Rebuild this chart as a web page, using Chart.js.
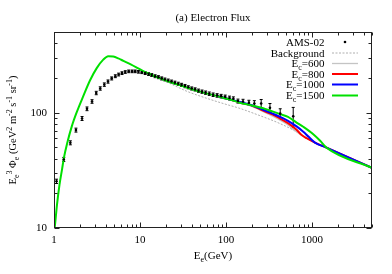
<!DOCTYPE html>
<html><head><meta charset="utf-8">
<script src="https://cdn.jsdelivr.net/npm/chart.js@4"></script>
<style>html,body{margin:0;padding:0;background:#fff}#wrap{width:392px;height:274px}</style>
</head><body><div id="wrap"><canvas id="c" width="392" height="274"></canvas></div>
<script>
// ---- AMS-02 data (E in GeV, E^3 flux) ----
const amsE=[1.07,1.30,1.55,1.80,2.12,2.42,2.77,3.10,3.45,3.85,4.25,4.69,5.17,5.65,6.18,6.75,7.40,8.10,8.80,9.60,10.5,11.5,12.6,13.7,15.0,16.4,17.9,19.5,21.3,23.3,25.5,27.9,30.5,33.4,36.5,40.0,43.8,48.0,52.7,58.0,64.0,71.0,79.0,88.0,98.0,110,122,138,158,185,214,257,325,428,606];
const amsV=[25.4,39.3,54.8,70.6,89,108,125,148,162,175,186,198,207,214,220,225,228,228,228,226,224,220,216,212,207,203,198,194,190,186,182,178,174,170,166,162,159,155,152,149,146,143,141,139,137,134,132,126,125,122,120,120,110,98,93];
const amsErr=[1.1,1.6,2.2,2.8,3.5,4,4.5,5,5.5,6,6,6,6,6,6,6,6,6,6,6,6,6,6,6,6,6,6,5.5,5.5,5.5,5.5,5.5,5.5,5.5,5,5,5,5,5,5,5,5,5,5,5,5,5,5,5.5,6,7,10,10,10,18];
// ---- model curves ----
const lowE=[1.0,1.02,1.083,1.159,1.239,1.307,1.428,1.61,1.84,2.19,2.62,3.14,3.74,4.28,4.89,5.6,6.41,7.8,9.15,10.9,13.1,20,30,50];
const lowV=[9.5,10.2,15.9,23.8,32.1,40.9,54.8,76,101,139,190,243,288,308,306,295,281,262,246,229,215,190,172,152];
const midE=[80,111];
const midV=[139,130];
const bgE=[13.1,20,36,60,100,139,250,400,600,720,868,1085,1477,5000];
const bgV=[214,186,152,133,118,110,94,82,71,65.5,60,55,49.7,33.2];
const c600E=[150,200,271,350,426,527,600,720,868,1085,1477,5000];
const c600V=[121,113,102,93,86,78,72,65.5,60,55,49.7,33.2];
const c800E=[150,200,271,350,426,527,663,760,868,1085,1477,5000];
const c800V=[122,115,104,96,89,81,71,64,60,55,49.7,33.2];
const c1000E=[150,200,271,350,426,527,663,800,910,1085,1477,5000];
const c1000V=[123,116,106,98,92,85,76,68,62,55,49.7,33.2];
const c1500E=[145,200,271,426,527,663,800,1037,1248,1477,5000];
const c1500V=[122,115.5,109,97,92,82,75,65,57,49.7,33.2];
// ---- ticks ----
const xMajor=[1,10,100,1000];
const xTickLabels=['1','10','100','1000'];
const xMinor=[2,3,4,5,6,7,8,9,20,30,40,50,60,70,80,90,200,300,400,500,600,700,800,900,2000,3000,4000,5000];
const yMajor=[10,100];
const yTickLabels=['10','100'];
const yMinor=[20,30,40,50,60,70,80,90,200,300,400,500];

const serif='"Liberation Serif","Times New Roman","DejaVu Serif",serif';
const pts=(E,V)=>E.map((e,i)=>({x:e,y:V[i]}));

function drawRich(ctx,parts,x,y,size,align){
  const sm=Math.round(size*0.72);
  let w=0;
  parts.forEach(p=>{ctx.font=(p.s?sm:size)+'px '+serif;w+=ctx.measureText(p.t).width;});
  let cx=align==='right'?x-w:align==='center'?x-w/2:x;
  parts.forEach(p=>{
    ctx.font=(p.s?sm:size)+'px '+serif;
    const dy=p.s==='sub'?size*0.3:p.s==='sup'?-size*0.42:0;
    ctx.fillText(p.t,cx,y+dy);
    cx+=ctx.measureText(p.t).width;
  });
}

const custom={
  id:'custom',
  beforeDatasetsDraw(chart){
    const {ctx,scales:{x,y},chartArea:a}=chart;
    ctx.save();
    ctx.beginPath();ctx.rect(a.left,a.top,a.right-a.left,a.bottom-a.top);ctx.clip();
    ctx.strokeStyle='#000';ctx.lineWidth=1;
    for(let i=0;i<amsE.length;i++){
      const px=x.getPixelForValue(amsE[i]);
      const y1=y.getPixelForValue(amsV[i]-amsErr[i]);
      const y2=y.getPixelForValue(amsV[i]+amsErr[i]);
      ctx.beginPath();
      ctx.moveTo(px,y1);ctx.lineTo(px,y2);
      ctx.moveTo(px-1.5,y1);ctx.lineTo(px+1.5,y1);
      ctx.moveTo(px-1.5,y2);ctx.lineTo(px+1.5,y2);
      ctx.stroke();
    }
    ctx.restore();
  },
  afterDraw(chart){
    const {ctx,scales:{x,y},chartArea:a}=chart;
    ctx.save();
    ctx.strokeStyle='#222';ctx.lineWidth=1;
    const L=Math.round(a.left)+0.5,R=Math.round(a.right)-0.5,T=Math.round(a.top)+0.5,B=Math.round(a.bottom)-0.5;
    ctx.strokeRect(L,T,R-L,B-T);
    ctx.beginPath();
    const xt=(vals,len)=>vals.forEach(v=>{const p=Math.round(x.getPixelForValue(v))+0.5;ctx.moveTo(p,B);ctx.lineTo(p,B-len);ctx.moveTo(p,T);ctx.lineTo(p,T+len);});
    const yt=(vals,len)=>vals.forEach(v=>{const p=Math.round(y.getPixelForValue(v))+0.5;ctx.moveTo(L,p);ctx.lineTo(L+len,p);ctx.moveTo(R,p);ctx.lineTo(R-len,p);});
    xt(xMajor,5);xt(xMinor,3);yt(yMajor,5);yt(yMinor,3);
    ctx.stroke();
    ctx.fillStyle='#000';ctx.textBaseline='alphabetic';ctx.textAlign='left';
    drawRich(ctx,[{t:'(a) Electron Flux'}],(a.left+a.right)/2,21,11,'center');
    drawRich(ctx,[{t:'E'},{t:'e',s:'sub'},{t:'(GeV)'}],(a.left+a.right)/2,259,11,'center');
    ctx.save();
    ctx.translate(16,(a.top+a.bottom)/2);
    ctx.rotate(-Math.PI/2);
    drawRich(ctx,[{t:'E'},{t:'e',s:'sub'},{t:'3',s:'sup'},{t:' Φ'},{t:'e',s:'sub'},{t:' (GeV'},{t:'2',s:'sup'},{t:' m'},{t:'-2',s:'sup'},{t:' s'},{t:'-1',s:'sup'},{t:' sr'},{t:'-1',s:'sup'},{t:')'}],0,0,10.5,'center');
    ctx.restore();
    const lx=324.5,l1=332,l2=358,rows=[42,52.5,63,73.5,84,95];
    const items=[
      {parts:[{t:'AMS-02'}],type:'pt'},
      {parts:[{t:'Background'}],color:'#9a9a9a',w:0.8,dash:[2,1.5]},
      {parts:[{t:'E'},{t:'c',s:'sub'},{t:'=600'}],color:'#c4c4c4',w:1.3},
      {parts:[{t:'E'},{t:'c',s:'sub'},{t:'=800'}],color:'#ff0000',w:2},
      {parts:[{t:'E'},{t:'c',s:'sub'},{t:'=1000'}],color:'#0000ff',w:2},
      {parts:[{t:'E'},{t:'c',s:'sub'},{t:'=1500'}],color:'#00e000',w:2}
    ];
    items.forEach((it,i)=>{
      const cy=rows[i];
      ctx.fillStyle='#000';
      drawRich(ctx,it.parts,lx,cy+4,11,'right');
      if(it.type==='pt'){
        ctx.beginPath();ctx.arc(345,cy,1.3,0,Math.PI*2);ctx.fill();
      }else{
        ctx.save();ctx.strokeStyle=it.color;ctx.lineWidth=it.w;ctx.setLineDash(it.dash||[]);
        ctx.beginPath();ctx.moveTo(l1,cy+0.5);ctx.lineTo(l2,cy+0.5);ctx.stroke();ctx.restore();
      }
    });
    ctx.restore();
  }
};

const lineDs=(label,data,color,w,order,dash)=>({label,data,showLine:true,borderColor:color,backgroundColor:color,borderWidth:w,pointRadius:0,cubicInterpolationMode:'monotone',order,borderDash:dash||[]});

new Chart(document.getElementById('c'),{
  type:'scatter',
  data:{datasets:[
    {label:'AMS-02',data:pts(amsE,amsV),pointRadius:1.3,pointBackgroundColor:'#000',pointBorderWidth:0,showLine:false,order:0},
    lineDs('Ec=1500',pts(lowE.concat(midE,c1500E),lowV.concat(midV,c1500V)),'#00e000',2,1),
    lineDs('Ec=1000',pts(midE.concat(c1000E),midV.concat(c1000V)),'#0000ff',2,2),
    lineDs('Ec=800',pts(midE.concat(c800E),midV.concat(c800V)),'#ff0000',2,3),
    lineDs('Ec=600',pts(midE.concat(c600E),midV.concat(c600V)),'#c4c4c4',1.3,4),
    lineDs('Background',pts(bgE,bgV),'#9a9a9a',0.8,5,[2,1.5])
  ]},
  options:{
    responsive:false,animation:false,devicePixelRatio:1,
    layout:{padding:{top:32,right:20,left:0,bottom:0}},
    plugins:{legend:{display:false},tooltip:{enabled:false},title:{display:false}},
    scales:{
      x:{type:'logarithmic',min:1,max:5000,
        grid:{display:false,drawTicks:false},border:{display:false},
        afterBuildTicks:s=>{s.ticks=xMajor.map(v=>({value:v}));},
        ticks:{autoSkip:false,maxRotation:0,padding:6,color:'#000',font:{family:serif,size:11},
          callback:(v)=>{const i=xMajor.indexOf(v);return i>=0?xTickLabels[i]:'';}},
        afterFit:s=>{s.height=46;}},
      y:{type:'logarithmic',min:10,max:500,
        grid:{display:false,drawTicks:false},border:{display:false},
        afterBuildTicks:s=>{s.ticks=yMajor.map(v=>({value:v}));},
        ticks:{autoSkip:false,padding:7,color:'#000',font:{family:serif,size:11},
          callback:(v)=>{const i=yMajor.indexOf(v);return i>=0?yTickLabels[i]:'';}},
        afterFit:s=>{s.width=54;}}
    }
  },
  plugins:[custom]
});
</script></body></html>
